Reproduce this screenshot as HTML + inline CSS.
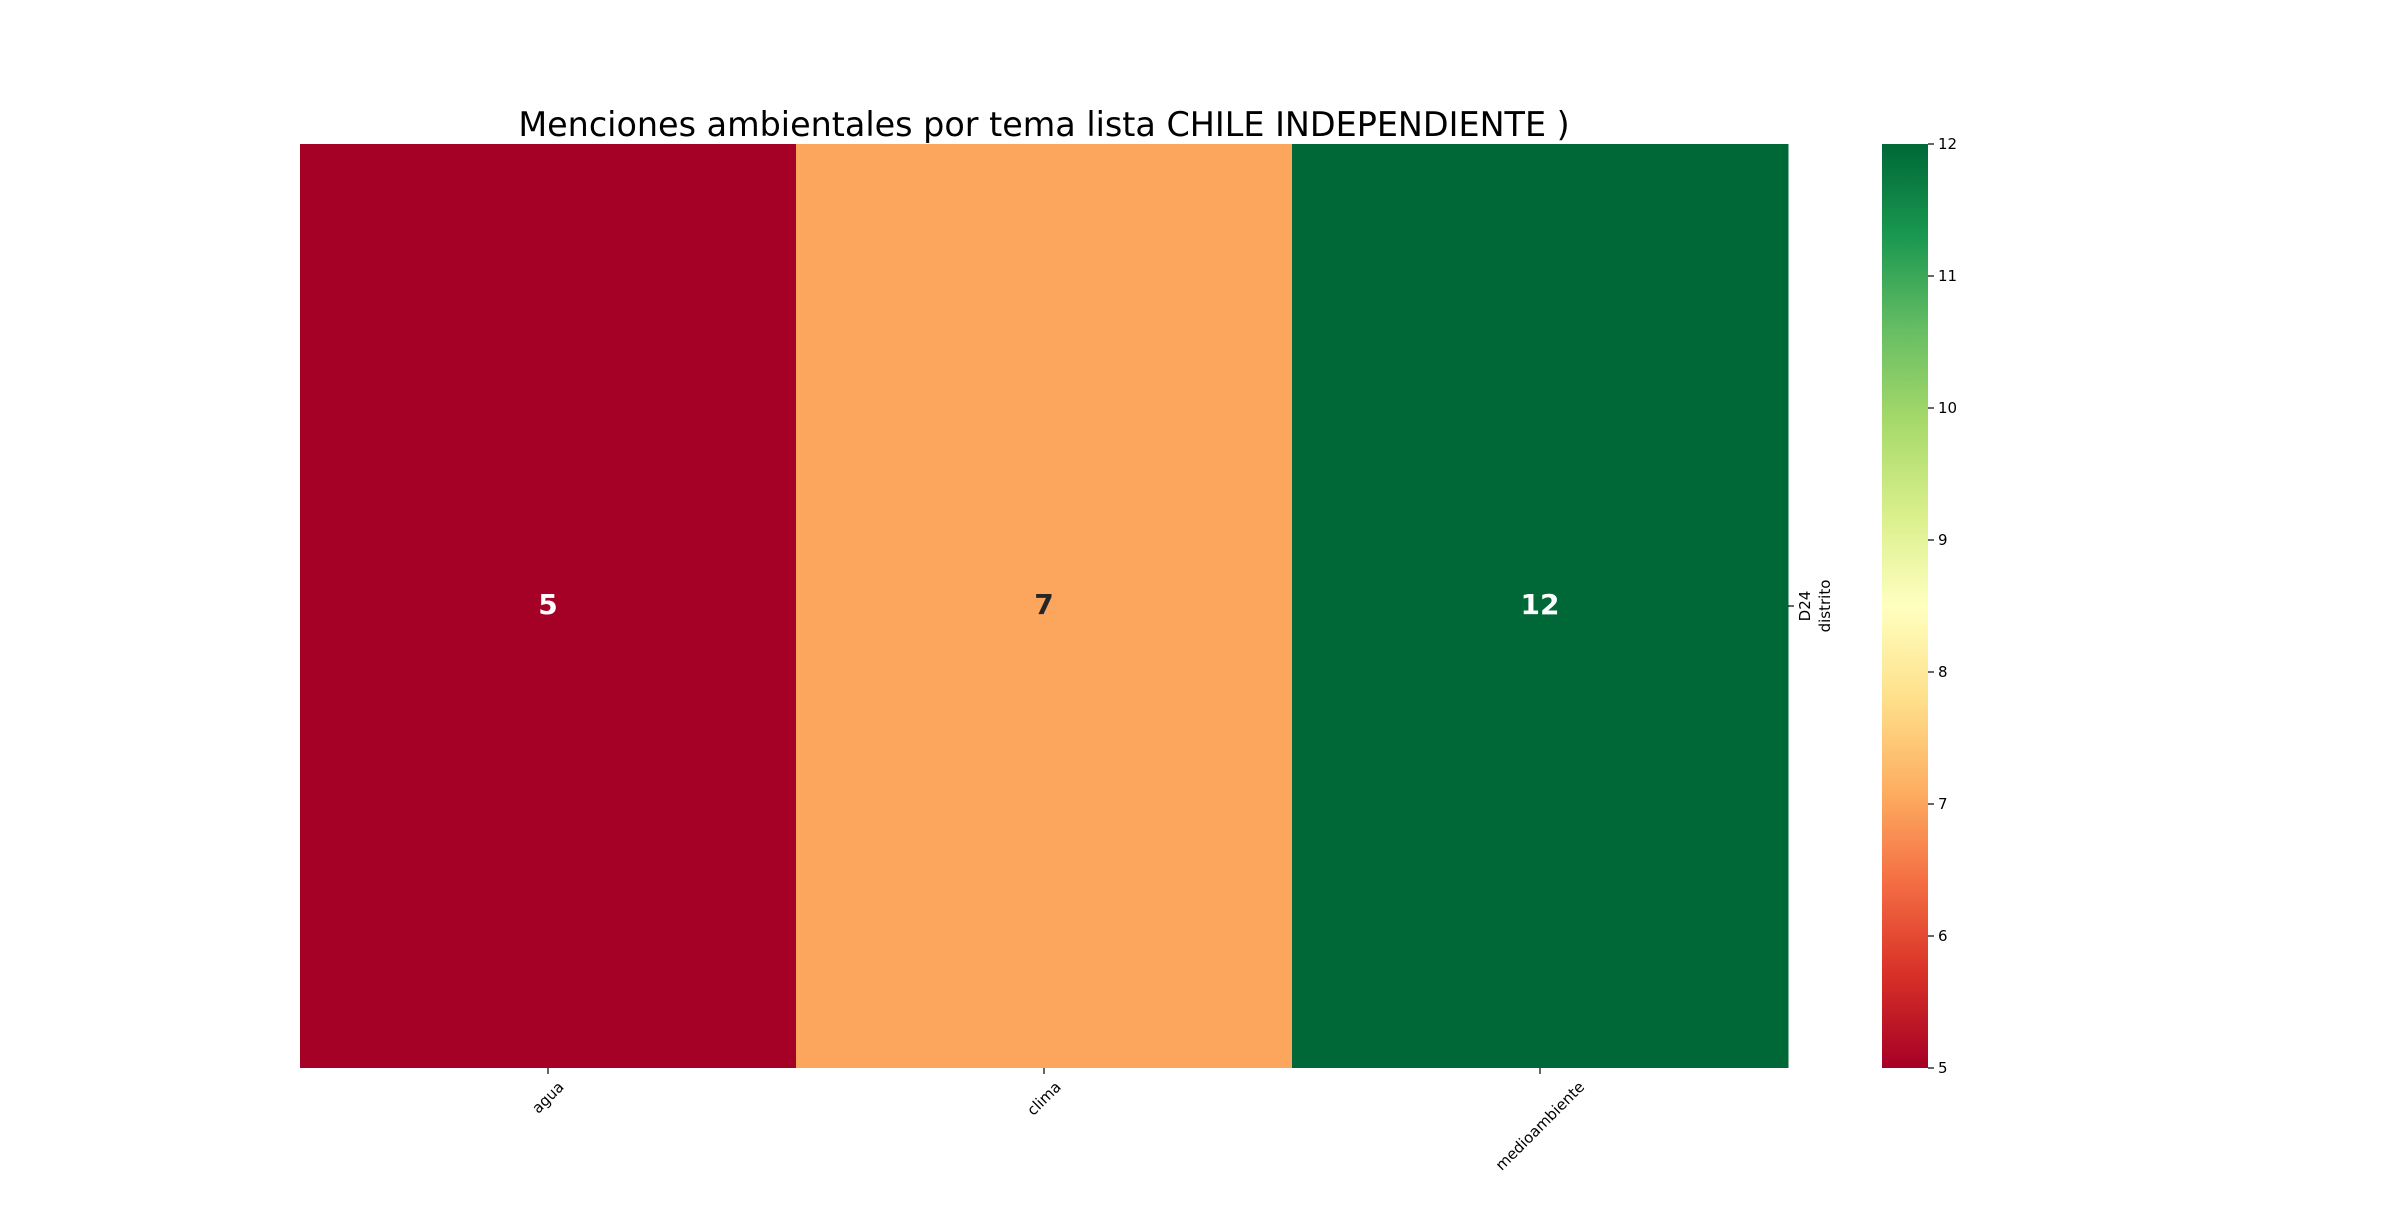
<!DOCTYPE html>
<html><head><meta charset="utf-8"><style>
body{margin:0;background:#fff;width:2400px;height:1200px;overflow:hidden;font-family:"Liberation Sans","DejaVu Sans",sans-serif}
</style></head><body>
<svg id="chart" width="2400" height="1200" xmlns="http://www.w3.org/2000/svg" font-family="DejaVu Sans, Liberation Sans, sans-serif">
<defs><linearGradient id="cg" x1="0" y1="1" x2="0" y2="0">
<stop offset="0" stop-color="#a50026"/><stop offset="0.1" stop-color="#d73027"/><stop offset="0.2" stop-color="#f46d43"/><stop offset="0.3" stop-color="#fdae61"/><stop offset="0.4" stop-color="#fee08b"/><stop offset="0.5" stop-color="#ffffbf"/><stop offset="0.6" stop-color="#d9ef8b"/><stop offset="0.7" stop-color="#a6d96a"/><stop offset="0.8" stop-color="#66bd63"/><stop offset="0.9" stop-color="#1a9850"/><stop offset="1" stop-color="#006837"/>
</linearGradient></defs>
<text x="1044" y="136" font-size="33.4" text-anchor="middle" fill="#000">Menciones ambientales por tema lista CHILE INDEPENDIENTE )</text>
<g id="cells"></g>
<g id="xticks"></g>
<line x1="1788" y1="606" x2="1794" y2="606" stroke="#000" stroke-width="1.2"/>
<text transform="translate(1810,606) rotate(-90)" font-size="15" text-anchor="middle">D24</text>
<text transform="translate(1830,606) rotate(-90)" font-size="15" text-anchor="middle">distrito</text>
<rect x="1882" y="144" width="46" height="924" fill="url(#cg)"/>
<g id="cticks"></g>
</svg>
<script>
const categories = ["agua","clima","medioambiente"];
const rowLabels = ["D24"];
const values = [5, 7, 12];
const cbTicks = [5,6,7,8,9,10,11,12];
const vmin = 5, vmax = 12;
const X0=300, X1=1788, Y0=144, Y1=1068;
const NS="http://www.w3.org/2000/svg";
const stops=[[165,0,38],[215,48,39],[244,109,67],[253,174,97],[254,224,139],[255,255,191],[217,239,139],[166,217,106],[102,189,99],[26,152,80],[0,104,55]];
function color(v){let t=(v-vmin)/(vmax-vmin)*10;t=Math.max(0,Math.min(10,t));let i=Math.min(9,Math.floor(t)),f=t-i;const a=stops[i],b=stops[i+1];return `rgb(${a.map((c,k)=>Math.round(c+(b[k]-c)*f)).join(',')})`;}
function xs(i){return X0+(X1-X0)*i/categories.length;}
function cy(v){return Y1-(v-vmin)/(vmax-vmin)*(Y1-Y0);}
const cw=(X1-X0)/categories.length;
const cells=document.getElementById('cells'), xt=document.getElementById('xticks'), ct=document.getElementById('cticks');
values.forEach((v,i)=>{
 const r=document.createElementNS(NS,'rect');
 
 
 r.setAttribute('x',xs(i));r.setAttribute('y',Y0);r.setAttribute('width',cw+0.5);r.setAttribute('height',Y1-Y0);r.setAttribute('fill',color(v));
 cells.appendChild(r);
 const t=document.createElementNS(NS,'text');
 
 
 t.setAttribute('x',xs(i)+cw/2);t.setAttribute('y',614);t.setAttribute('font-size','28');t.setAttribute('font-weight','bold');t.setAttribute('text-anchor','middle');
 t.setAttribute('fill',(v<=5.8||v>=11)?'#fff':'#262626');t.textContent=v;
 cells.appendChild(t);
});
categories.forEach((c,i)=>{
 const cx=xs(i)+cw/2;
 const l=document.createElementNS(NS,'line');
 
 
 l.setAttribute('x1',cx);l.setAttribute('x2',cx);l.setAttribute('y1',Y1);l.setAttribute('y2',Y1+6);l.setAttribute('stroke','#000');l.setAttribute('stroke-width','1.2');
 xt.appendChild(l);
 const t=document.createElementNS(NS,'text');
 
 
 t.setAttribute('font-size','15');t.setAttribute('text-anchor','middle');t.setAttribute('dominant-baseline','central');
 t.textContent=c;xt.appendChild(t);
 const w=t.getComputedTextLength();
 const half=(w+15)*0.7071/2;
 t.setAttribute('transform',`translate(${cx},${Y1+11+half}) rotate(-45)`);
});
cbTicks.forEach(v=>{
 const y=cy(v);
 const l=document.createElementNS(NS,'line');
 
 
 l.setAttribute('x1',1928);l.setAttribute('x2',1934);l.setAttribute('y1',y);l.setAttribute('y2',y);l.setAttribute('stroke','#000');l.setAttribute('stroke-width','1.2');
 ct.appendChild(l);
 const t=document.createElementNS(NS,'text');
 
 
 t.setAttribute('x',1938);t.setAttribute('y',y+5);t.setAttribute('font-size','15');
 t.textContent=v;ct.appendChild(t);
});
</script>
</body></html>
